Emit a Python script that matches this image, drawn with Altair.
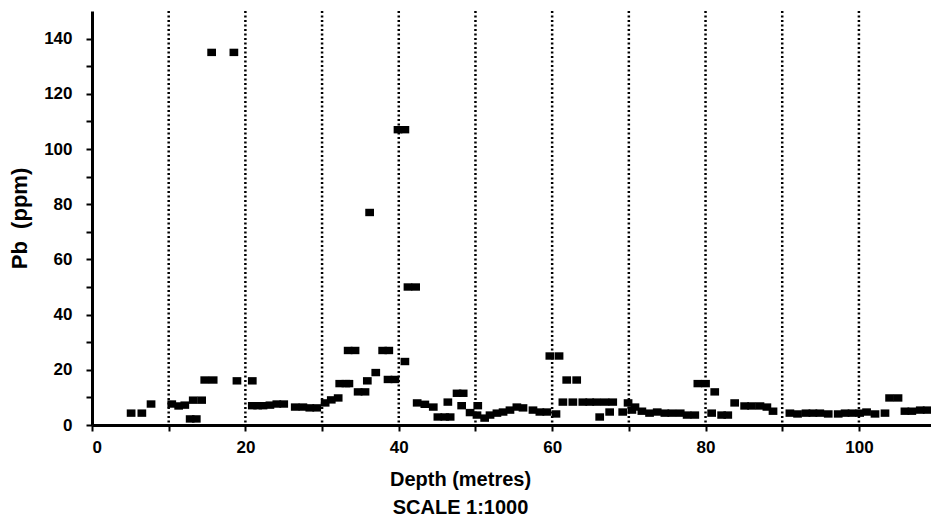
import altair as alt
import pandas as pd

# Depth (m) and Pb (ppm) values
depth = [5.1, 6.5, 7.7, 10.4, 11.3, 12.1, 12.8, 13.6, 13.2, 14.3,
         14.7, 15.8, 15.6, 18.5, 18.9, 20.9, 20.9, 21.6, 22.3, 23.2,
         24.1, 25.0, 26.5, 27.5, 28.4, 29.3, 30.4, 31.2, 32.1, 32.3,
         33.1, 33.5, 33.4, 34.3, 34.7, 35.6, 35.9, 36.2, 37.0, 37.9,
         38.7, 38.6, 39.5, 39.9, 40.8, 40.8, 41.2, 42.2, 42.4, 43.4,
         44.5, 45.1, 46.0, 46.7, 46.4, 47.6, 48.4, 48.2, 49.3, 50.3,
         50.2, 51.2, 51.9, 52.8, 53.6, 54.5, 55.4, 56.2, 57.5, 58.4,
         59.3, 59.7, 60.9, 60.5, 61.4, 62.7, 61.9, 63.2, 64.0, 64.9,
         65.8, 66.9, 67.9, 66.2, 67.5, 69.2, 69.9, 70.8, 70.4, 71.7,
         72.7, 73.7, 74.7, 75.6, 76.7, 77.6, 78.6, 79.0, 80.0, 81.2,
         80.8, 82.1, 82.9, 83.8, 85.1, 86.0, 87.1, 88.0, 88.8, 91.0,
         92.0, 93.1, 94.0, 94.9, 96.0, 97.3, 98.2, 99.1, 100.1, 101.0,
         102.1, 104.0, 105.1, 103.4, 106.0, 106.9, 108.0, 108.9]
pb = [4.3, 4.3, 7.6, 7.6, 6.9, 7.2, 2.2, 2.2, 9.0, 9.0,
      16.3, 16.3, 135.0, 135.0, 16.0, 16.0, 7.0, 7.0, 7.0, 7.2,
      7.6, 7.6, 6.5, 6.5, 6.2, 6.2, 8.0, 9.1, 9.8, 15.0,
      15.0, 15.0, 27.0, 27.0, 12.0, 12.0, 16.0, 77.0, 19.0, 27.0,
      27.0, 16.5, 16.5, 107.0, 107.0, 23.0, 50.0, 50.0, 8.0, 7.5,
      6.5, 2.9, 2.9, 2.9, 8.3, 11.5, 11.5, 7.0, 4.5, 7.0,
      3.6, 2.5, 3.6, 4.3, 4.7, 5.4, 6.5, 6.2, 5.4, 4.7,
      4.7, 25.0, 25.0, 4.0, 8.3, 8.3, 16.3, 16.3, 8.3, 8.3,
      8.3, 8.3, 8.3, 2.9, 4.7, 4.7, 8.0, 6.5, 5.4, 5.0,
      4.3, 4.7, 4.3, 4.3, 4.3, 3.6, 3.6, 15.0, 15.0, 12.0,
      4.3, 3.6, 3.6, 8.0, 6.9, 6.9, 6.9, 6.5, 5.0, 4.3,
      4.0, 4.3, 4.3, 4.3, 4.0, 4.0, 4.3, 4.3, 4.3, 4.7,
      4.0, 9.8, 9.8, 4.3, 5.0, 5.0, 5.4, 5.4]

grid_depths = [10, 20, 30, 40, 50, 60, 70, 80, 90, 100]
x_ticks = [0, 10, 20, 30, 40, 50, 60, 70, 80, 90, 100]
y_ticks = [0, 10, 20, 30, 40, 50, 60, 70, 80, 90, 100, 110, 120, 130, 140]

df = pd.DataFrame({"depth": depth, "pb": pb})
lines = pd.DataFrame({"depth": grid_depths})

FONT = "Liberation Sans"
xscale = alt.Scale(domain=[0, 109.4], nice=False, zero=False)
yscale = alt.Scale(domain=[0, 150], nice=False)

x_axis = alt.Axis(
    values=x_ticks,
    labelExpr="datum.value % 20 == 0 ? datum.label : ''",
    title=["Depth (metres)", "SCALE 1:1000"],
    titleLineHeight=28,
    titlePadding=14,
    titleFontSize=20,
    titleX=368,
    titleAnchor="start",
    titleAlign="center",
    labelPadding=8,
    grid=False,
)
y_axis = alt.Axis(
    values=y_ticks,
    labelExpr="datum.value % 20 == 0 ? datum.label : ''",
    title="Pb\u00a0\u00a0(ppm)",
    titleFontSize=22,
    titlePadding=12,
    labelPadding=14,
    grid=False,
)

rules = alt.Chart(lines).mark_rule(
    color="black", strokeWidth=2.5, strokeDash=[2, 2.5]
).encode(x=alt.X("depth:Q", scale=xscale, axis=x_axis))

rect_shape = "M-1,-0.85 L1,-0.85 L1,0.85 L-1,0.85 Z"
points = alt.Chart(df).mark_point(
    shape=rect_shape, filled=True, size=76, color="black", opacity=1, clip=True
).encode(
    x=alt.X("depth:Q", scale=xscale, axis=x_axis),
    y=alt.Y("pb:Q", scale=yscale, axis=y_axis),
)

chart = (
    alt.layer(rules, points)
    .properties(
        width=839,
        height=414,
        autosize=alt.AutoSizeParams(type="none"),
        padding={"left": 92, "top": 11, "right": 0, "bottom": 102},
        background="white",
    )
    .configure_view(stroke=None)
    .configure_axis(
        domainColor="black",
        domainWidth=3,
        tickColor="black",
        tickWidth=2,
        tickSize=6,
        labelFont=FONT,
        labelFontSize=17,
        labelFontWeight="bold",
        labelColor="black",
        titleFont=FONT,
        titleFontWeight="bold",
        titleColor="black",
    )
)

chart.save("out.html", embed_options={"renderer": "svg", "actions": False})
